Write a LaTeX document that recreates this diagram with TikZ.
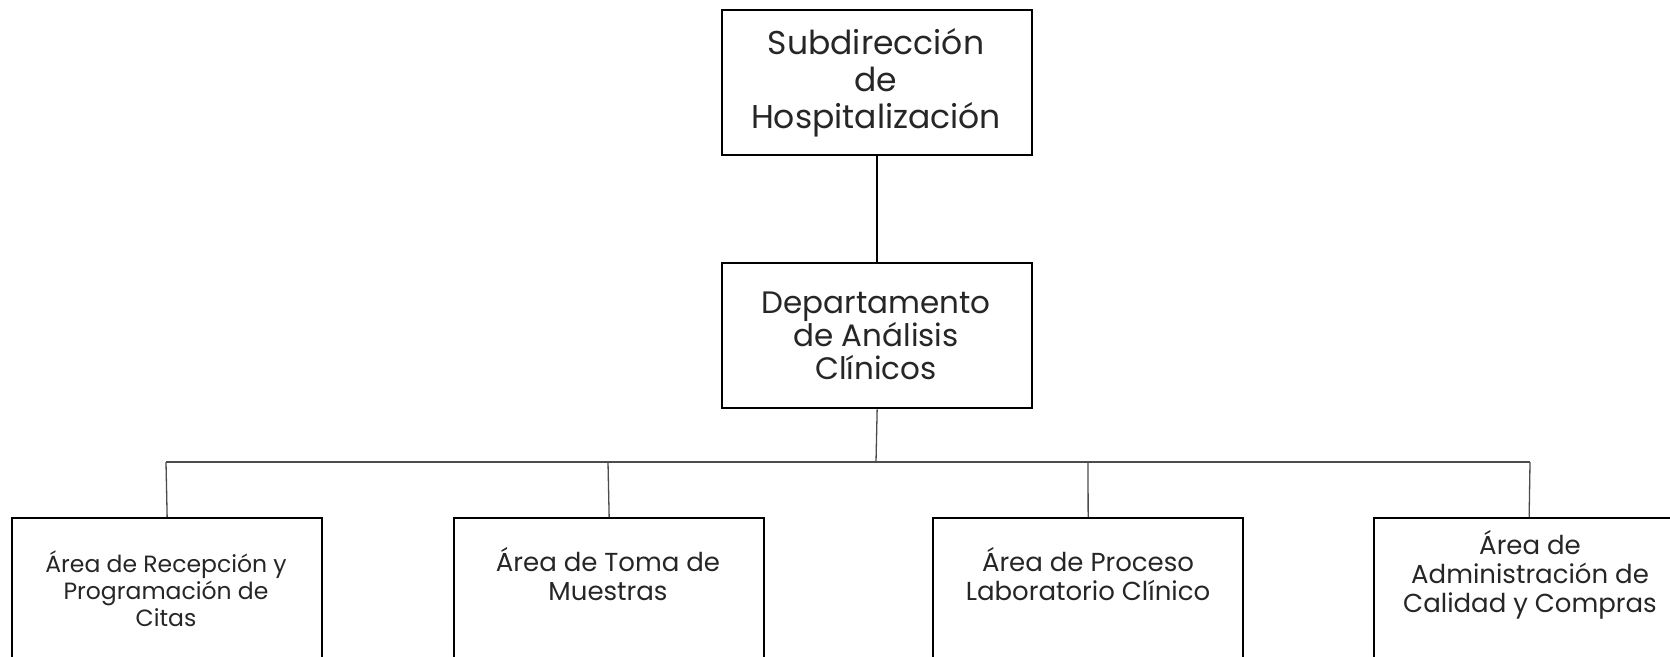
\documentclass[tikz,border=0pt]{standalone}
\usepackage{fontspec}
\setmainfont{Poppins}
\begin{document}
\begin{tikzpicture}[x=1pt,y=-1pt,
  box/.style={draw=black, line width=2.3pt, minimum width=310pt, minimum height=145pt, inner sep=0pt, anchor=north west},
  lbl/.style={align=center, inner sep=0pt, text=black!85},
  big/.style={lbl, font=\fontsize{33}{37}\selectfont},
  mid/.style={lbl, font=\fontsize{31}{33}\selectfont},
  small/.style={lbl, font=\fontsize{23.5}{27}\selectfont},
  smallb/.style={lbl, font=\fontsize{26}{29}\selectfont},
  strong/.style={line width=2pt, black},
  thin/.style={line width=1.3pt, black!70}]
\useasboundingbox (0,0) rectangle (1670,656);
\clip (0,0) rectangle (1670,656);
\fill[white] (0,0) rectangle (1670,656);
% boxes
\node[box] (top) at (721,9) {};
\node[box] (dep) at (721,262) {};
\node[box] (b1) at (11,517) {};
\node[box] (b2) at (453,517) {};
\node[box] (b3) at (932,517) {};
\node[box] (b4) at (1373,517) {};
% texts
\node[big] (ttop) at (876,83) {Subdirección\\de\\Hospitalización};
\node[mid] (tdep) at (876,336) {Departamento\\de Análisis\\Clínicos};
\node[small] (t1) at (166,589) {Área de Recepción y\\Programación de\\Citas};
\node[smallb] (t2) at (608,574) {Área de Toma de\\Muestras};
\node[smallb] (t3) at (1088,574) {Área de Proceso\\Laboratorio Clínico};
\node[smallb] (t4) at (1530,575) {Área de\\Administración de\\Calidad y Compras};
% connectors
\coordinate (j0) at (876,462);
\coordinate (j1) at (166,462);
\coordinate (j2) at (608,462);
\coordinate (j3) at (1088,462);
\coordinate (j4) at (1530,462);
\draw[strong] (top.south) -- (dep.north);
\draw[thin] (dep.south) -- (j0);
\draw[thin] (j1) -- (j4);
\draw[thin] (j1) -- (b1.north);
\draw[thin] (j2) -- (b2.north);
\draw[thin] (j3) -- (b3.north);
\draw[thin] (j4) -- (b4.north);
\end{tikzpicture}
\end{document}
